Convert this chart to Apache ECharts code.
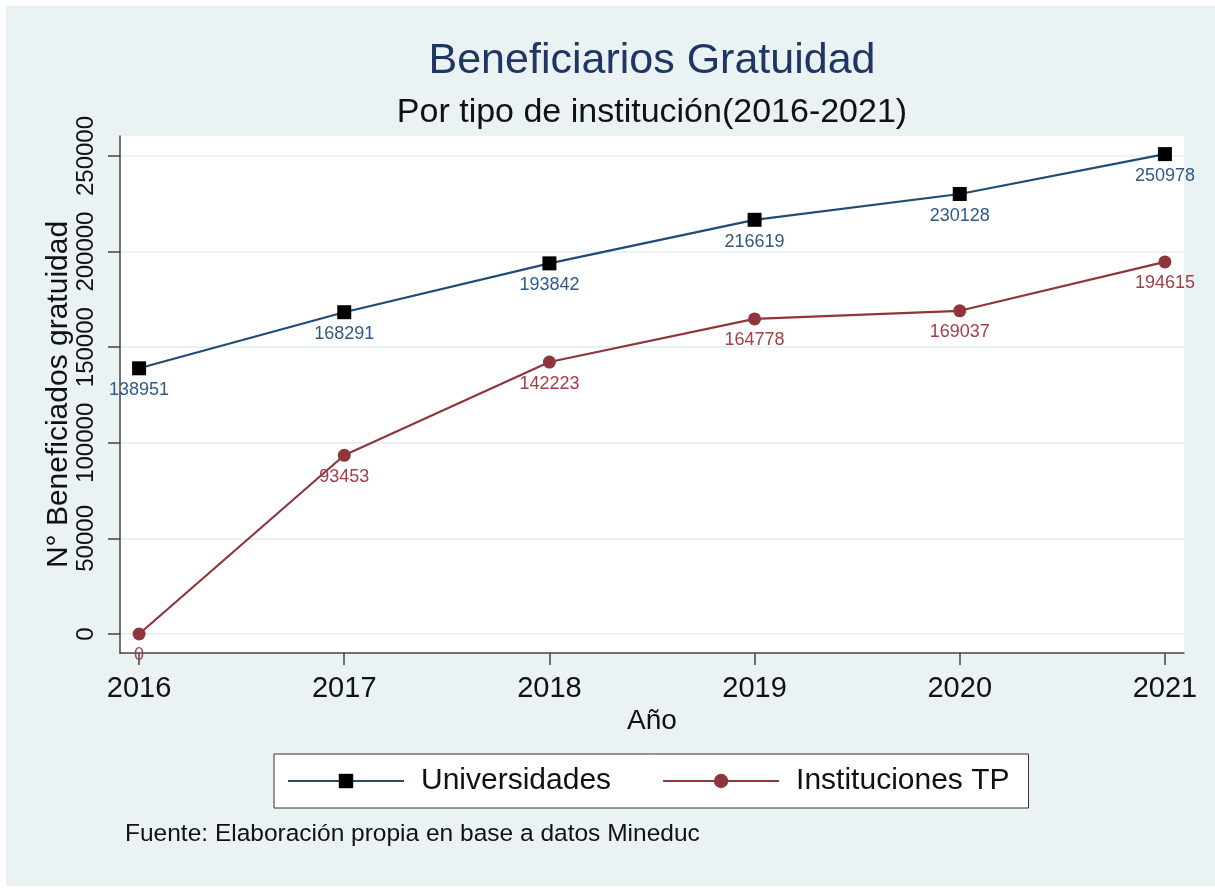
<!DOCTYPE html>
<html>
<head>
<meta charset="utf-8">
<script src="https://cdn.jsdelivr.net/npm/echarts@6/dist/echarts.min.js"></script>
<style>
  html, body { margin: 0; padding: 0; background: #fff; }
  #chart { width: 1215px; height: 888px; }
</style>
</head>
<body>
<div id="chart"></div>
<script>
// datos
const years = [2016, 2017, 2018, 2019, 2020, 2021];
const universidades = [138951, 168291, 193842, 216619, 230128, 250978];
const institucionesTP = [0, 93453, 142223, 164778, 169037, 194615];
const yTicks = [0, 50000, 100000, 150000, 200000, 250000];

const chart = echarts.init(document.getElementById("chart"));

const font = "'Liberation Sans', Arial, Helvetica, sans-serif";

function pares(vals) {
  return years.map((y, i) => [y, vals[i]]);
}

const option = {
  backgroundColor: "#fff",
  textStyle: { fontFamily: font },
  graphic: [
    {
      type: "rect",
      z: -10,
      shape: { x: 6, y: 6, width: 1209, height: 880 },
      style: { fill: "#eaf2f3" },
    },
    {
      type: "text",
      left: 125,
      top: 822,
      style: {
        text: "Fuente: Elaboración propia en base a datos Mineduc",
        fill: "#111",
        font: "24.5px " + font,
      },
    },
  ],
  title: [
    {
      text: "Beneficiarios Gratuidad",
      left: 652,
      textAlign: "center",
      top: 40,
      padding: 0,
      textStyle: { color: "#1f3564", fontSize: 43, fontWeight: "normal", fontFamily: font },
    },
    {
      text: "Por tipo de institución(2016-2021)",
      left: 652,
      textAlign: "center",
      top: 96,
      padding: 0,
      textStyle: { color: "#111", fontSize: 34, fontWeight: "normal", fontFamily: font },
    },
  ],
  legend: {
    left: 274,
    top: 754,
    orient: "horizontal",
    padding: [12, 19, 12, 13],
    itemGap: 51,
    itemWidth: 116,
    itemHeight: 18,
    backgroundColor: "#fff",
    borderColor: "#333",
    borderWidth: 1,
    borderRadius: 0,
    textStyle: { fontSize: 30, color: "#111", padding: [0, 0, 0, 12], fontFamily: font },
    data: ["Universidades", "Instituciones TP"],
  },
  grid: {
    left: 120,
    right: 31,
    top: 136,
    bottom: 235,
    show: true,
    backgroundColor: "#fff",
    borderWidth: 0,
  },
  xAxis: {
    type: "value",
    min: 2015.907,
    max: 2021.093,
    name: "Año",
    nameLocation: "middle",
    nameGap: 54,
    nameMoveOverlap: false,
    nameTextStyle: { fontSize: 28, color: "#111", fontFamily: font },
    axisLine: { show: true, onZero: false, lineStyle: { color: "#444", width: 1.5 } },
    axisTick: { show: true, length: 12, customValues: years, lineStyle: { color: "#444", width: 1.5 } },
    axisLabel: {
      customValues: years,
      margin: 21,
      fontSize: 29,
      color: "#111",
      formatter: (v) => String(v),
    },
    splitLine: { show: false },
  },
  yAxis: {
    type: "value",
    min: -9950,
    max: 260450,
    name: "N° Beneficiados gratuidad",
    nameLocation: "middle",
    nameRotate: 90,
    nameGap: 46,
    nameMoveOverlap: false,
    nameTextStyle: { fontSize: 30, color: "#111", fontFamily: font },
    axisLine: { show: true, onZero: false, lineStyle: { color: "#444", width: 1.5 } },
    axisTick: { show: true, length: 12, customValues: yTicks, lineStyle: { color: "#444", width: 1.5 } },
    axisLabel: {
      customValues: yTicks,
      rotate: 90,
      margin: 22,
      fontSize: 24,
      color: "#111",
      formatter: (v) => String(v),
    },
    splitLine: { show: true, lineStyle: { color: "#eaf2f3", width: 2 } },
  },
  series: [
    {
      name: "Universidades",
      type: "line",
      data: pares(universidades),
      symbol: "rect",
      symbolSize: 14,
      itemStyle: { color: "#000" },
      lineStyle: { color: "#1f4b75", width: 2.2 },
      label: {
        show: true,
        position: "bottom",
        distance: 6,
        fontSize: 18,
        color: "#2f5a87",
        formatter: (p) => String(p.value[1]),
      },
      emphasis: { disabled: true },
      animation: false,
    },
    {
      name: "Instituciones TP",
      type: "line",
      data: pares(institucionesTP),
      symbol: "circle",
      symbolSize: 13,
      itemStyle: { color: "#90353b" },
      lineStyle: { color: "#90353b", width: 2.2 },
      label: {
        show: true,
        position: "bottom",
        distance: 6,
        fontSize: 18,
        color: "#a03f47",
        formatter: (p) => String(p.value[1]),
      },
      emphasis: { disabled: true },
      animation: false,
    },
  ],
};

chart.setOption(option);
</script>
</body>
</html>
